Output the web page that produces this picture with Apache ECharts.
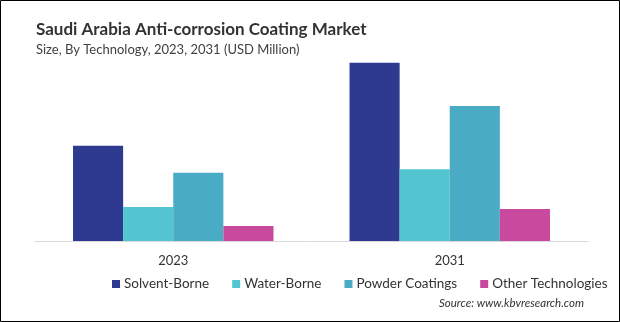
<!DOCTYPE html>
<html>
<head>
<meta charset="utf-8">
<style>
  html, body { margin: 0; padding: 0; background: #fff; }
  #chart { width: 620px; height: 322px; }
</style>
<script src="https://cdn.jsdelivr.net/npm/echarts@6/dist/echarts.min.js"></script>
</head>
<body>
<div id="chart"></div>
<script>
// Market size by technology (USD Million)
const years = ['2023', '2031'];
const solventBorne = [95.3, 178.3];
const waterBorne = [34.0, 71.7];
const powderCoatings = [68.3, 135.0];
const otherTechnologies = [15.0, 32.0];

const seriesNames = ['Solvent-Borne', 'Water-Borne', 'Powder Coatings', 'Other Technologies'];
const seriesValues = [solventBorne, waterBorne, powderCoatings, otherTechnologies];
const colors = ['#2d3a8f', '#52c5d0', '#4aabc5', '#c8499d'];

const font = 'Lato, "Open Sans", sans-serif';

const chart = echarts.init(document.getElementById('chart'), null, { renderer: 'canvas' });

chart.setOption({
  animation: false,
  color: colors,
  title: [
    {
      text: 'Saudi Arabia Anti-corrosion Coating Market',
      left: 31, top: 16,
      textStyle: { fontFamily: font, fontSize: 17, fontWeight: 'bold', color: '#333' }
    },
    {
      text: 'Size, By Technology, 2023, 2031 (USD Million)',
      left: 31, top: 38,
      textStyle: { fontFamily: font, fontSize: 13, fontWeight: 'normal', color: '#404040' }
    },
    {
      text: 'Source: www.kbvresearch.com',
      right: 31, top: 292,
      textStyle: { fontFamily: font, fontSize: 11.5, fontStyle: 'italic', fontWeight: 'normal', color: '#333' }
    }
  ],
  legend: {
    left: 112, top: 277, width: 505, padding: 0,
    icon: 'rect', itemWidth: 8, itemHeight: 8, itemGap: 23,
    textStyle: { fontFamily: font, fontSize: 13.5, color: '#333', padding: [0, 0, 0, -1] },
    data: seriesNames
  },
  grid: { left: 35, right: 32, top: 50, bottom: 81 },
  xAxis: {
    type: 'category',
    data: years,
    axisLine: { lineStyle: { color: '#d9d9d9', width: 1 } },
    axisTick: { show: false },
    axisLabel: { fontFamily: font, fontSize: 13, color: '#333', margin: 13 }
  },
  yAxis: {
    type: 'value', min: 0, max: 191,
    show: false,
    splitLine: { show: false }
  },
  series: seriesNames.map((name, i) => ({
    name,
    type: 'bar',
    data: seriesValues[i],
    barGap: '0%',
    barCategoryGap: '27.5%',
    itemStyle: { color: colors[i] }
  })),
  graphic: [{
    type: 'rect',
    shape: { x: 0.5, y: 0.5, width: 619, height: 321 },
    style: { fill: 'none', stroke: '#000', lineWidth: 1 },
    silent: true
  }]
});
</script>
</body>
</html>
